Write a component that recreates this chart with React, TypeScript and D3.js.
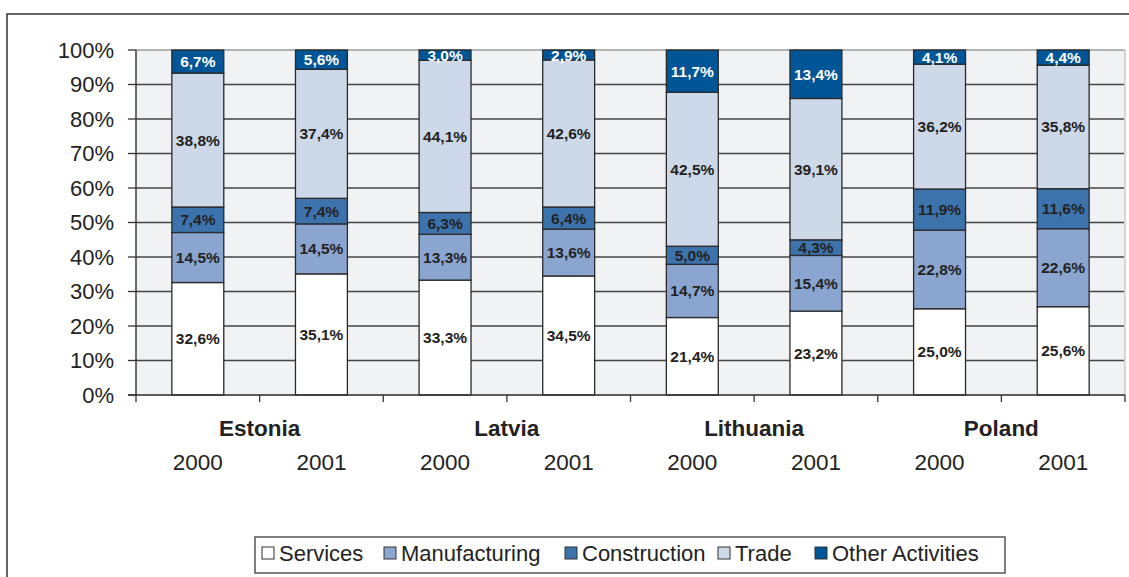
import * as d3 from 'd3'

// países e anos (uma barra por par país/ano)
const countries = ['Estonia', 'Latvia', 'Lithuania', 'Poland']
const years = ['2000', '2001']
const bars = countries.flatMap((c) => years.map((y) => `${c} ${y}`))

const sectors = ['Services', 'Manufacturing', 'Construction', 'Trade', 'Other Activities']
const colors = ['#ffffff', '#8aa5cf', '#3d73ad', '#cdd9e8', '#005596']

// valores por setor, na ordem das barras
const services = [32.6, 35.1, 33.3, 34.5, 21.4, 23.2, 25.0, 25.6]
const manufacturing = [14.5, 14.5, 13.3, 13.6, 14.7, 15.4, 22.8, 22.6]
const construction = [7.4, 7.4, 6.3, 6.4, 5.0, 4.3, 11.9, 11.6]
const trade = [38.8, 37.4, 44.1, 42.6, 42.5, 39.1, 36.2, 35.8]
const other = [6.7, 5.6, 3.0, 2.9, 11.7, 13.4, 4.1, 4.4]

const yTicks = [0, 0.1, 0.2, 0.3, 0.4, 0.5, 0.6, 0.7, 0.8, 0.9, 1]

const W = 1129
const H = 577
const left = 136
const right = 1125
const top = 50
const bottom = 395
const font = 'Liberation Sans, Arial, sans-serif'

export default function App() {
  const series = [services, manufacturing, construction, trade, other]
  const table = bars.map((b, i) => {
    const row: Record<string, number | string> = { bar: b }
    sectors.forEach((s, j) => (row[s] = series[j][i]))
    return row
  })
  const stacked = d3
    .stack<Record<string, number | string>>()
    .keys(sectors)
    .value((d, k) => d[k] as number)
    .offset(d3.stackOffsetExpand)(table)

  const x = d3.scaleBand(bars, [left, right]).paddingInner(0.58).paddingOuter(0.29)
  const y = d3.scaleLinear([0, 1], [bottom, top])
  const step = x.step()
  const fmt = (v: number) => v.toFixed(1).replace('.', ',') + '%'

  const legendX = [262, 384, 565, 718, 815]

  return (
    <svg
      width={W}
      height={H}
      style={{ position: 'absolute', left: 0, top: 0, display: 'block' }}
      fontFamily={font}
    >
      <rect x={0} y={0} width={W} height={H} fill="#fff" />
      <rect x={7} y={14} width={W + 20} height={H + 20} fill="none" stroke="#333" strokeWidth={1.5} />

      {/* área do gráfico */}
      <rect x={left} y={top} width={right - left} height={bottom - top} fill="#f1f2f4" stroke="#b4b4b4" strokeWidth={1} />
      {yTicks.map((t) => (
        <g key={t}>
          {t > 0 && (
            <line
              x1={left}
              x2={right - 1}
              y1={y(t)}
              y2={y(t)}
              stroke={t === 1 ? '#a8a8a8' : '#444'}
              strokeWidth={1.3}
            />
          )}
          <line x1={left - 8} x2={left} y1={y(t)} y2={y(t)} stroke="#333" strokeWidth={1.3} />
          <text x={114} y={y(t) + 7.5} textAnchor="end" fontSize={22} fill="#222">
            {Math.round(t * 100)}%
          </text>
        </g>
      ))}

      {/* barras empilhadas */}
      {stacked.map((s, j) =>
        s.map((d, i) => {
          const bx = x(bars[i])!
          const y0 = y(d[0])
          const y1 = y(d[1])
          return (
            <g key={`${j}-${i}`}>
              <rect
                x={bx}
                y={y1}
                width={x.bandwidth()}
                height={y0 - y1}
                fill={colors[j]}
                stroke="#2a2a2a"
                strokeWidth={1.3}
              />
              <text
                x={bx + x.bandwidth() / 2}
                y={(y0 + y1) / 2 + 5.5}
                textAnchor="middle"
                fontSize={15.5}
                fontWeight="bold"
                fill={j === 4 ? '#fff' : '#222'}
              >
                {fmt(series[j][i])}
              </text>
            </g>
          )
        })
      )}

      {/* eixos */}
      <line x1={left} x2={left} y1={top} y2={bottom} stroke="#333" strokeWidth={1.3} />
      <line x1={left - 8} x2={right} y1={bottom} y2={bottom} stroke="#333" strokeWidth={1.5} />
      {d3.range(bars.length + 1).map((k) => (
        <line key={k} x1={left + k * step} x2={left + k * step} y1={bottom} y2={bottom + 7} stroke="#333" strokeWidth={1.3} />
      ))}
      {bars.map((b, i) => (
        <text key={b} x={x(b)! + x.bandwidth() / 2} y={470} textAnchor="middle" fontSize={22.5} fill="#222">
          {years[i % 2]}
        </text>
      ))}
      {countries.map((c, i) => (
        <text key={c} x={left + (2 * i + 1) * step} y={436} textAnchor="middle" fontSize={22.5} fontWeight="bold" fill="#222">
          {c}
        </text>
      ))}

      {/* legenda */}
      <rect x={255} y={537} width={750} height={36} fill="#fff" stroke="#555" strokeWidth={1.5} />
      {sectors.map((s, j) => (
        <g key={s}>
          <rect x={legendX[j]} y={547} width={12} height={12} fill={colors[j]} stroke="#333" strokeWidth={1} />
          <text x={legendX[j] + 17} y={561} fontSize={22} fill="#222">
            {s}
          </text>
        </g>
      ))}
    </svg>
  )
}
